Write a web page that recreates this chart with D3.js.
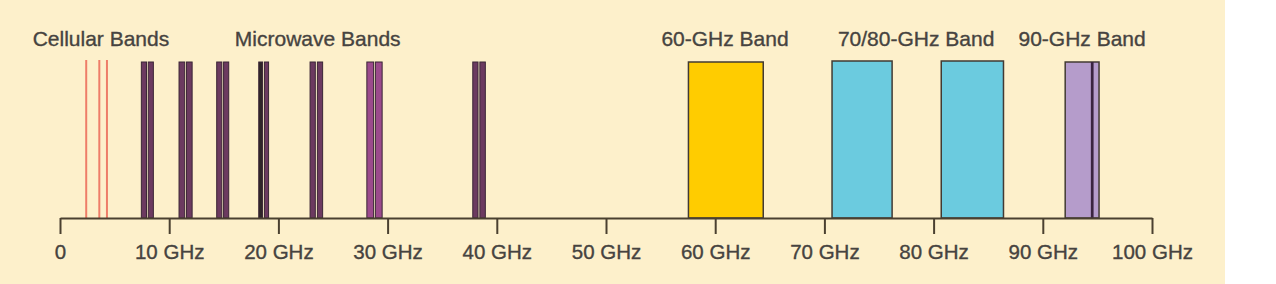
<!DOCTYPE html>
<html>
<head>
<meta charset="utf-8">
<script src="https://cdn.jsdelivr.net/npm/d3@7"></script>
<style>
  body { margin: 0; background: #fff; }
  svg { display: block; }
  text { font-family: "Liberation Sans", Arial, sans-serif; fill: #464340; stroke: #464340; stroke-width: 0.35px; }
</style>
</head>
<body>
<svg id="chart" width="1276" height="284"></svg>
<script>
// tick marks on the frequency axis (GHz)
const tickValues = [0, 10, 20, 30, 40, 50, 60, 70, 80, 90, 100];
const tickLabels = ["0", "10 GHz", "20 GHz", "30 GHz", "40 GHz", "50 GHz", "60 GHz", "70 GHz", "80 GHz", "90 GHz", "100 GHz"];

// cellular carriers (GHz), drawn as thin lines
const cellularFreqs = [2.4, 3.6, 4.3];

// microwave links: each pair is two channels [lo, hi] in GHz
const microwaveBars = [
  [7.45, 7.92], [8.08, 8.55],
  [10.9, 11.42], [11.58, 12.1],
  [14.35, 14.82], [14.98, 15.45],
  [18.2, 18.55], [18.72, 19.1],
  [22.9, 23.38], [23.57, 24.05],
  [28.1, 28.72], [28.88, 29.5],
  [37.8, 38.28], [38.45, 38.95]
];
const microwaveColors = [
  "#6c3a60", "#6c3a60",
  "#6c3a60", "#6c3a60",
  "#6c3a60", "#6c3a60",
  "#2f2428", "#6c3a60",
  "#6c3a60", "#6c3a60",
  "#9c4a8c", "#9c4a8c",
  "#6c3a60", "#6c3a60"
];

// wide millimetre-wave bands [lo, hi] in GHz
const mmBands = [[57.55, 64.4], [70.7, 76.2], [80.7, 86.4], [92.05, 95.15]];
const mmColors = ["#ffcc00", "#6bcbdf", "#6bcbdf", "#b59ccb"];
const excludedLine = [94.4, 94.65];

// band captions and their centre (GHz)
const captionText = ["Cellular Bands", "Microwave Bands", "60-GHz Band", "70/80-GHz Band", "90-GHz Band"];
const captionAt = [3.75, 23.6, 60.9, 78.4, 93.6];

const svg = d3.select("#chart");
const axisY = 218;
const barTop = 62;

svg.append("rect")
  .attr("x", 0).attr("y", 0)
  .attr("width", 1225).attr("height", 284)
  .attr("fill", "#fdf0cb");

const x = d3.scaleLinear().domain([0, 100]).range([60, 1152]);
const y = d3.scaleLinear().domain([0, 1]).range([axisY, barTop]);

// cellular lines
svg.append("g")
  .selectAll("line")
  .data(cellularFreqs)
  .join("line")
  .attr("x1", d => x(d)).attr("x2", d => x(d))
  .attr("y1", y(0)).attr("y2", y(1) - 2)
  .attr("stroke", "#ee7d68")
  .attr("stroke-width", 2);

// microwave channel pairs
svg.append("g")
  .selectAll("rect")
  .data(microwaveBars)
  .join("rect")
  .attr("x", d => x(d[0]))
  .attr("y", y(1))
  .attr("width", d => x(d[1]) - x(d[0]))
  .attr("height", y(0) - y(1))
  .attr("fill", (d, i) => microwaveColors[i])
  .attr("stroke", "#3b2636")
  .attr("stroke-width", 1);

// mm-wave bands
svg.append("g")
  .selectAll("rect")
  .data(mmBands)
  .join("rect")
  .attr("x", d => x(d[0]))
  .attr("y", (d, i) => (i === 1 || i === 2) ? y(1) - 1 : y(1))
  .attr("width", d => x(d[1]) - x(d[0]))
  .attr("height", (d, i) => y(0) - y(1) + ((i === 1 || i === 2) ? 1 : 0))
  .attr("fill", (d, i) => mmColors[i])
  .attr("stroke", "#423a33")
  .attr("stroke-width", 1.5);

svg.append("rect")
  .attr("x", x(excludedLine[0]))
  .attr("y", y(1))
  .attr("width", x(excludedLine[1]) - x(excludedLine[0]))
  .attr("height", y(0) - y(1))
  .attr("fill", "#3a2440");

// axis
const axis = d3.axisBottom(x)
  .tickValues(tickValues)
  .tickFormat((d, i) => tickLabels[i])
  .tickSize(16)
  .tickSizeOuter(0);

const gx = svg.append("g")
  .attr("transform", `translate(0,${axisY})`)
  .call(axis);

gx.select(".domain").attr("stroke", "#4a4030").attr("stroke-width", 2);
gx.selectAll(".tick line").attr("stroke", "#4a4030").attr("stroke-width", 2);
gx.selectAll(".tick text")
  .attr("y", 26)
  .attr("font-size", 20.5)
  .attr("font-family", null)
  .attr("fill", null);

// captions
svg.append("g")
  .selectAll("text")
  .data(captionText)
  .join("text")
  .attr("x", (d, i) => x(captionAt[i]))
  .attr("y", 46)
  .attr("text-anchor", "middle")
  .attr("font-size", 21)
  .text(d => d);
</script>
</body>
</html>
